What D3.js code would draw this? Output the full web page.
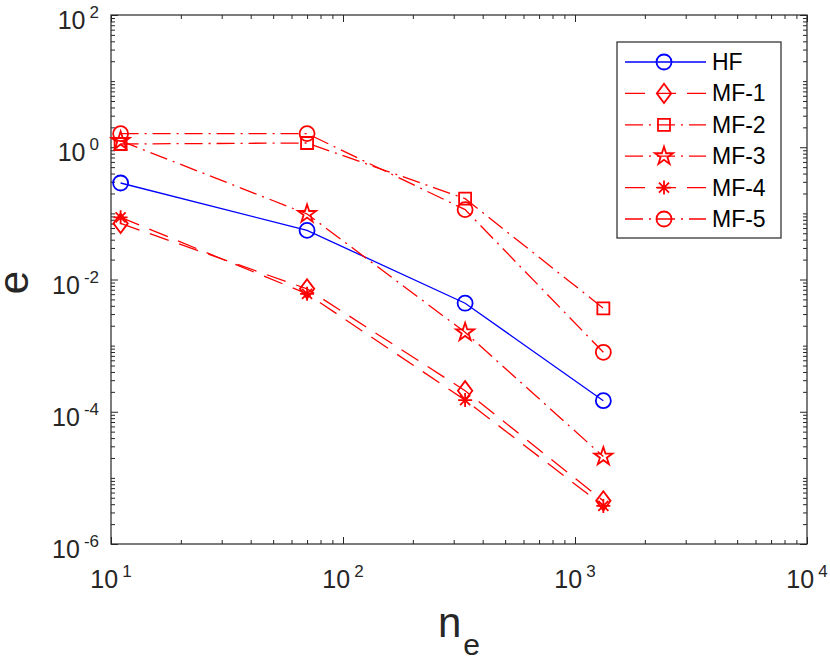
<!DOCTYPE html>
<html>
<head>
<meta charset="utf-8">
<script src="https://cdn.jsdelivr.net/npm/d3@7"></script>
<style>
  body { margin: 0; background: #fff; }
  text { font-family: "Liberation Sans", Arial, Helvetica, sans-serif; }
</style>
</head>
<body>
<div id="chart"></div>
<script>
// number of elements (x)
const ne = [11, 70, 336, 1325];

// error values per series
const hf  = [0.288, 0.0553, 0.00438, 1.47e-4];
const mf1 = [0.0705, 0.00722, 2.08e-4, 4.49e-6];
const mf2 = [1.12, 1.16, 0.167, 0.00367];
const mf3 = [1.25, 0.098, 0.00159, 2.1e-5];
const mf4 = [0.087, 0.00607, 1.50e-4, 3.77e-6];
const mf5 = [1.61, 1.61, 0.114, 7.93e-4];

const seriesNames = ["HF", "MF-1", "MF-2", "MF-3", "MF-4", "MF-5"];

const xTicks = [1e1, 1e2, 1e3, 1e4];
const xTickExp = ["1", "2", "3", "4"];
const yTicks = [1e-6, 1e-4, 1e-2, 1e0, 1e2];
const yTickExp = ["-6", "-4", "-2", "0", "2"];

const width = 830;
const height = 661;
const pLeft = 111, pRight = 807, pTop = 15, pBottom = 544;

const svg = d3.select("#chart").append("svg")
    .attr("width", width)
    .attr("height", height);

const x = d3.scaleLog().domain([1e1, 1e4]).range([pLeft, pRight]);
const y = d3.scaleLog().domain([1e-6, 1e2]).range([pBottom, pTop]);

const axisColor = "#262626";

// custom marker shapes (matlab style)
const diamond = {
    draw(ctx, size) {
        const s = Math.sqrt(size);
        ctx.moveTo(0, -s * 0.6);
        ctx.lineTo(s * 0.45, 0);
        ctx.lineTo(0, s * 0.6);
        ctx.lineTo(-s * 0.45, 0);
        ctx.closePath();
    }
};
const asterisk = {
    draw(ctx, size) {
        const r = Math.sqrt(size) / 2;
        const d = r * 0.72;
        ctx.moveTo(-r, 0); ctx.lineTo(r, 0);
        ctx.moveTo(0, -r); ctx.lineTo(0, r);
        ctx.moveTo(-d, -d); ctx.lineTo(d, d);
        ctx.moveTo(-d, d); ctx.lineTo(d, -d);
    }
};

const dashed = "20,11";
const dashdot = "18,6,2,6";

const series = [
    { name: seriesNames[0], values: hf,  color: "#0000ff", dash: null,    type: d3.symbolCircle, size: 177 },
    { name: seriesNames[1], values: mf1, color: "#ff0000", dash: dashed,  type: diamond,         size: 256 },
    { name: seriesNames[2], values: mf2, color: "#ff0000", dash: dashdot, type: d3.symbolSquare, size: 144 },
    { name: seriesNames[3], values: mf3, color: "#ff0000", dash: dashdot, type: d3.symbolStar,   size: 101 },
    { name: seriesNames[4], values: mf4, color: "#ff0000", dash: dashed,  type: asterisk,        size: 196 },
    { name: seriesNames[5], values: mf5, color: "#ff0000", dash: dashdot, type: d3.symbolCircle, size: 177 }
];

// axes ticks (inward, on all four sides)
const xMinor = x.ticks().filter(t => !xTicks.includes(t));
const yMinor = y.ticks().filter(t => !yTicks.some(v => Math.abs(Math.log10(v) - Math.log10(t)) < 1e-9));

function tickGroup(axis, tx, ty) {
    const g = svg.append("g")
        .attr("transform", `translate(${tx}, ${ty})`)
        .call(axis);
    g.select(".domain").remove();
    g.selectAll("line").attr("stroke", axisColor);
    return g;
}

tickGroup(d3.axisBottom(x).tickValues(xTicks).tickSize(-7).tickFormat(""), 0, pBottom);
tickGroup(d3.axisBottom(x).tickValues(xMinor).tickSize(-4).tickFormat(""), 0, pBottom);
tickGroup(d3.axisTop(x).tickValues(xTicks).tickSize(-7).tickFormat(""), 0, pTop);
tickGroup(d3.axisTop(x).tickValues(xMinor).tickSize(-4).tickFormat(""), 0, pTop);
tickGroup(d3.axisLeft(y).tickValues(yTicks).tickSize(-7).tickFormat(""), pLeft, 0);
tickGroup(d3.axisLeft(y).tickValues(yMinor).tickSize(-4).tickFormat(""), pLeft, 0);
tickGroup(d3.axisRight(y).tickValues(yTicks).tickSize(-7).tickFormat(""), pRight, 0);
tickGroup(d3.axisRight(y).tickValues(yMinor).tickSize(-4).tickFormat(""), pRight, 0);

svg.append("rect")
    .attr("x", pLeft).attr("y", pTop)
    .attr("width", pRight - pLeft).attr("height", pBottom - pTop)
    .attr("fill", "none")
    .attr("stroke", axisColor)
    .attr("stroke-width", 1.2);

// tick labels 10^n
const xLab = svg.append("g").selectAll("text")
    .data(xTicks)
    .enter()
    .append("text")
    .attr("x", d => x(d))
    .attr("y", pBottom + 44)
    .attr("text-anchor", "middle")
    .attr("fill", axisColor)
    .attr("font-size", 25);
xLab.append("tspan").text("10");
xLab.append("tspan").attr("dx", 4).attr("dy", -11).attr("font-size", 17).text((d, i) => xTickExp[i]);

const yLab = svg.append("g").selectAll("text")
    .data(yTicks)
    .enter()
    .append("text")
    .attr("x", pLeft - 12)
    .attr("y", d => y(d) + 14)
    .attr("text-anchor", "end")
    .attr("fill", axisColor)
    .attr("font-size", 25);
yLab.append("tspan").text("10");
yLab.append("tspan").attr("dx", 4).attr("dy", -11).attr("font-size", 17).text((d, i) => yTickExp[i]);

// axis titles
const xTitle = svg.append("text")
    .attr("x", (pLeft + pRight) / 2)
    .attr("y", 637)
    .attr("text-anchor", "middle")
    .attr("fill", axisColor)
    .attr("font-size", 42);
xTitle.append("tspan").text("n");
xTitle.append("tspan").attr("dx", 2).attr("dy", 18).attr("font-size", 30).text("e");

svg.append("text")
    .attr("transform", `translate(28, ${(pTop + pBottom) / 2 + 3}) rotate(-90)`)
    .attr("text-anchor", "middle")
    .attr("fill", axisColor)
    .attr("font-size", 42)
    .text("e");

// lines + markers
const line = d3.line()
    .x((d, i) => x(ne[i]))
    .y(d => y(d));

const plot = svg.append("g");
series.forEach(s => {
    plot.append("path")
        .datum(s.values)
        .attr("d", line)
        .attr("fill", "none")
        .attr("stroke", s.color)
        .attr("stroke-width", 1.3)
        .attr("stroke-dasharray", s.dash);
    plot.selectAll(null)
        .data(s.values)
        .enter()
        .append("path")
        .attr("d", d3.symbol().type(s.type).size(s.size))
        .attr("transform", (d, i) => `translate(${x(ne[i])}, ${y(d)})`)
        .attr("fill", "none")
        .attr("stroke", s.color)
        .attr("stroke-width", 1.8);
});

// legend
const legend = svg.append("g").attr("class", "legend");
legend.append("rect")
    .attr("x", 617).attr("y", 42)
    .attr("width", 164).attr("height", 196)
    .attr("fill", "#fff")
    .attr("stroke", axisColor)
    .attr("stroke-width", 1.2);

const rowScale = d3.scalePoint()
    .domain(seriesNames)
    .range([62, 219]);

series.forEach(s => {
    const row = legend.append("g")
        .attr("transform", `translate(0, ${rowScale(s.name)})`);
    row.append("line")
        .attr("x1", 625).attr("x2", 706)
        .attr("stroke", s.color)
        .attr("stroke-width", 1.3)
        .attr("stroke-dasharray", s.dash);
    row.append("path")
        .attr("d", d3.symbol().type(s.type).size(s.size))
        .attr("transform", "translate(664, 0)")
        .attr("fill", "none")
        .attr("stroke", s.color)
        .attr("stroke-width", 1.8);
    row.append("text")
        .attr("x", 712)
        .attr("y", 8)
        .attr("font-size", 23)
        .attr("fill", "#000")
        .text(s.name);
});
</script>
</body>
</html>
